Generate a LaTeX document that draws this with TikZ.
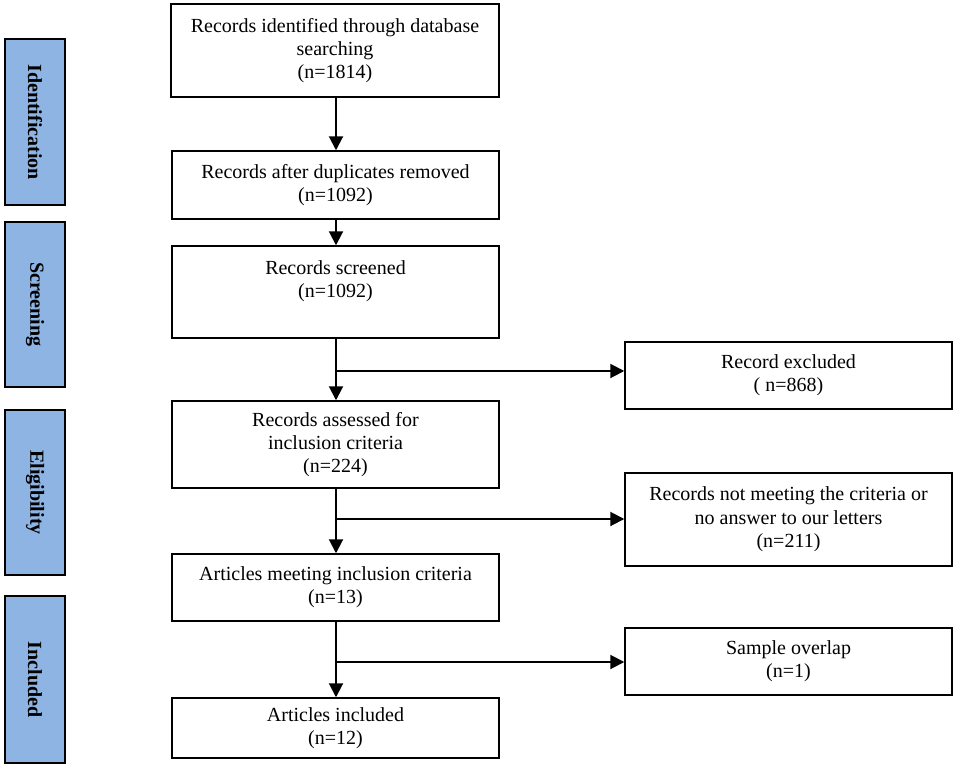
\documentclass[tikz,border=0pt]{standalone}
\usepackage{fontspec}
\setmainfont{Liberation Serif}
\usetikzlibrary{arrows.meta}
\definecolor{sideblue}{HTML}{8EB4E3}
\begin{document}
\begin{tikzpicture}[x=0.75pt,y=-0.75pt,
  box/.style={draw=black, line width=1.1pt, fill=white, align=center, inner sep=0pt,
    font=\fontsize{15pt}{17.5pt}\selectfont},
  side/.style={draw=black, line width=1.5pt, fill=sideblue, inner sep=0pt,
    minimum width={60*0.75pt}},
  sidetext/.style={rotate=-90, font=\fontsize{15pt}{17pt}\selectfont\bfseries},
  flow/.style={line width=1.5pt, -{Triangle[width=10.5pt,length=10.5pt]}}]
\useasboundingbox (0,0) rectangle (957,771);
% side labels
\node[side, minimum height={166*0.75pt}] (sid) at (35,122) {};
\node[sidetext] (tid) at (sid.center) {Identification};
\node[side, minimum height={165*0.75pt}] (sscr) at (35,304.5) {};
\node[sidetext] (tscr) at (sscr.center) {Screening};
\node[side, minimum height={165*0.75pt}] (selig) at (35,492.5) {};
\node[sidetext] (telig) at (selig.center) {Eligibility};
\node[side, minimum height={167*0.75pt}] (sinc) at (35,679.5) {};
\node[sidetext] (tinc) at (sinc.center) {Included};
% main boxes
\node[box, minimum width={328*0.75pt}, minimum height={93*0.75pt}] (b1) at (335,50.5)
  {Records identified through database\\searching\\(n=1814)};
\node[box, minimum width={327*0.75pt}, minimum height={68*0.75pt}] (b2) at (335.5,185)
  {Records after duplicates removed\\(n=1092)};
\node[box, minimum width={327*0.75pt}, minimum height={92*0.75pt}] (b3) at (335.5,292)
  {Records screened\\(n=1092)\\[2pt]\phantom{x}};
\node[box, minimum width={327*0.75pt}, minimum height={87*0.75pt}] (b4) at (335.5,444.5)
  {Records assessed for\\inclusion criteria\\(n=224)};
\node[box, minimum width={327*0.75pt}, minimum height={67*0.75pt}] (b5) at (335.5,587.5)
  {Articles meeting inclusion criteria\\(n=13)};
\node[box, minimum width={327*0.75pt}, minimum height={60*0.75pt}] (b6) at (335.5,728)
  {Articles included\\(n=12)};
% right boxes
\node[box, minimum width={327*0.75pt}, minimum height={67*0.75pt}] (r1) at (788.5,375.5)
  {Record excluded\\( n=868)};
\node[box, minimum width={327*0.75pt}, minimum height={93*0.75pt}] (r2) at (788.5,519.5)
  {Records not meeting the criteria or\\no answer to our letters\\(n=211)};
\node[box, minimum width={327*0.75pt}, minimum height={67*0.75pt}] (r3) at (788.5,661.5)
  {Sample overlap\\(n=1)};
% connectors
\coordinate (j1) at (336,371);
\coordinate (j2) at (336,519);
\coordinate (j3) at (336,662);
\draw[flow] (b1.south -| j1) -- (b2.north -| j1);
\draw[flow] (b2.south -| j1) -- (b3.north -| j1);
\draw[flow] (b3.south -| j1) -- (b4.north -| j1);
\draw[flow] (b4.south -| j1) -- (b5.north -| j1);
\draw[flow] (b5.south -| j1) -- (b6.north -| j1);
\draw[flow] (j1) -- (j1 -| r1.west);
\draw[flow] (j2) -- (j2 -| r2.west);
\draw[flow] (j3) -- (j3 -| r3.west);
\end{tikzpicture}
\end{document}
